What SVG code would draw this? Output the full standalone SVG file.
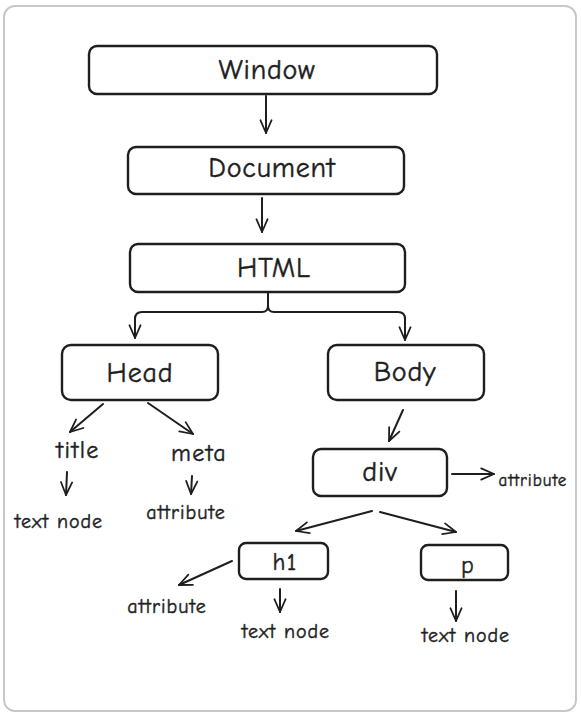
<svg xmlns="http://www.w3.org/2000/svg" width="581" height="716" viewBox="0 0 581 716">
<defs>
<marker id="ah" viewBox="0 0 20 20" refX="18" refY="10" markerWidth="16" markerHeight="16" markerUnits="userSpaceOnUse" orient="auto">
<polyline points="2,3 18,10 2,17" fill="none" stroke="#1e1e1e" stroke-width="2.2" stroke-linecap="round" stroke-linejoin="round"/>
</marker>
</defs>
<style>
.box{fill:#ffffff;stroke:#1e1e1e;stroke-width:2.4}
.lbl{font-family:"Comic Neue","Liberation Sans","DejaVu Sans",sans-serif;fill:#1e1e1e;stroke:#1e1e1e;stroke-width:0.45;text-anchor:middle;dominant-baseline:central}
.big{font-size:28px;letter-spacing:0.8px}
.mid{font-size:24px;letter-spacing:1.4px}
.sm{font-size:20px;letter-spacing:1px}
.xs{font-size:17px;letter-spacing:1px}
.con{fill:none;stroke:#1e1e1e;stroke-width:2;stroke-linecap:round;marker-end:url(#ah)}
.plain{fill:none;stroke:#1e1e1e;stroke-width:2;stroke-linecap:round}
</style>
<rect x="4" y="6" width="572" height="705" rx="11" fill="#ffffff" stroke="#c8c8c8" stroke-width="2"/>
<g id="connectors">
<path class="con" d="M266,96 L266,133"/>
<path class="con" d="M262,198 L262,232"/>
<path class="plain" d="M268,293 L268,306 Q268,312 262,312 L142,312 Q135,312 135,319"/>
<path class="con" d="M135,318 L135,338"/>
<path class="plain" d="M268,306 Q268,312 274,312 L398,312 Q405,312 405,319"/>
<path class="con" d="M405,318 L405,340"/>
<path class="con" d="M103,404 L70,432"/>
<path class="con" d="M148,403 L193,434"/>
<path class="con" d="M67,472 L66,495"/>
<path class="con" d="M192,476 L191,494"/>
<path class="con" d="M403,410 L389,441"/>
<path class="con" d="M452,474 L494,474"/>
<path class="con" d="M372,511 L296,531"/>
<path class="con" d="M380,512 L456,532"/>
<path class="con" d="M232,561 L179,585"/>
<path class="con" d="M280,589 L280,612"/>
<path class="con" d="M456,591 L456,621"/>
</g>
<g id="window"><rect class="box" x="89" y="46" width="348" height="48" rx="8"/><text class="lbl big" x="267" y="70">Window</text></g>
<g id="document"><rect class="box" x="128" y="147" width="276" height="47" rx="8"/><text class="lbl big" x="272" y="168">Document</text></g>
<g id="html"><rect class="box" x="130" y="244" width="275" height="48" rx="8"/><text class="lbl big" x="274" y="268">HTML</text></g>
<g id="head"><rect class="box" x="62" y="345" width="156" height="55" rx="9"/><text class="lbl big" x="140" y="373">Head</text></g>
<g id="body"><rect class="box" x="328" y="345" width="156" height="55" rx="9"/><text class="lbl big" x="405" y="372">Body</text></g>
<g id="title"><text class="lbl mid" x="78" y="450">title</text></g>
<g id="meta"><text class="lbl mid" x="199" y="453">meta</text></g>
<g id="title-text"><text class="lbl sm" x="59" y="521">text node</text></g>
<g id="meta-attr"><text class="lbl sm" x="186" y="512">attribute</text></g>
<g id="div"><rect class="box" x="313" y="449" width="134" height="47" rx="8"/><text class="lbl big" x="380" y="472">div</text></g>
<g id="div-attr"><text class="lbl xs" x="533" y="480">attribute</text></g>
<g id="h1"><rect class="box" x="239" y="543" width="89" height="36" rx="7"/><text class="lbl mid" x="285" y="562">h1</text></g>
<g id="p"><rect class="box" x="421" y="545" width="87" height="35" rx="7"/><text class="lbl mid" x="468" y="565">p</text></g>
<g id="h1-attr"><text class="lbl sm" x="167" y="606">attribute</text></g>
<g id="h1-text"><text class="lbl sm" x="286" y="631">text node</text></g>
<g id="p-text"><text class="lbl sm" x="466" y="635">text node</text></g>
</svg>
